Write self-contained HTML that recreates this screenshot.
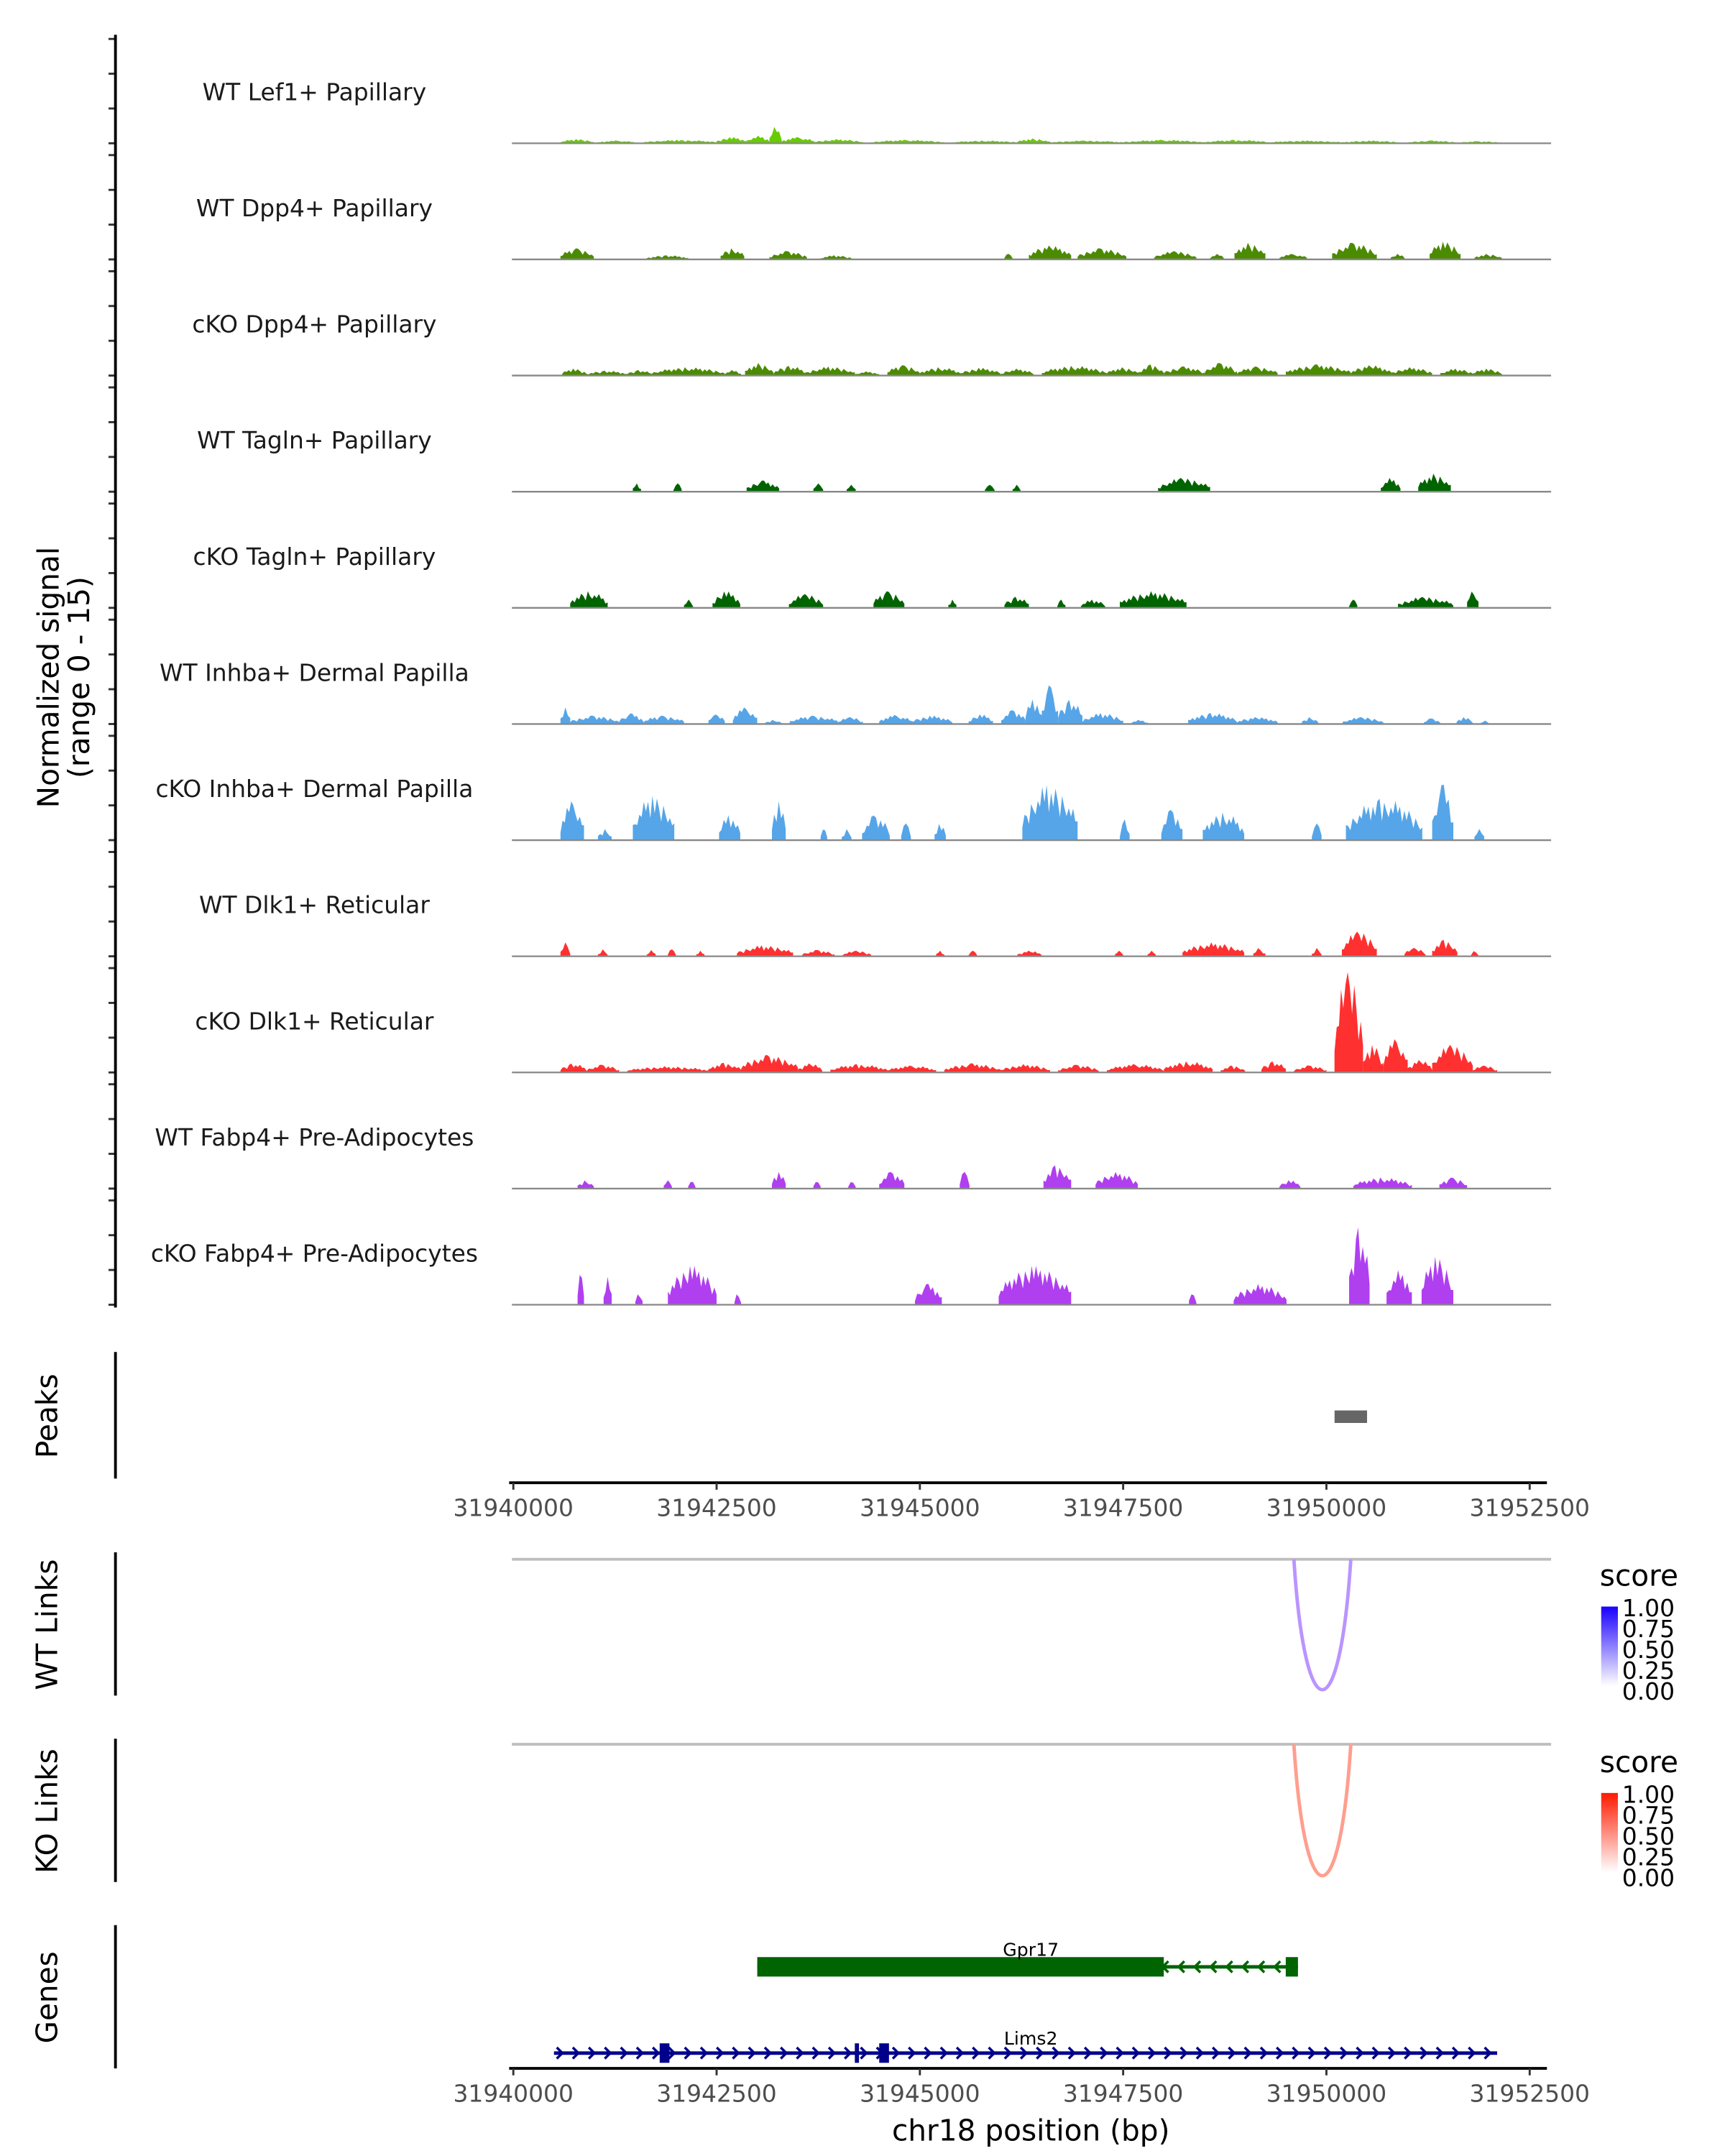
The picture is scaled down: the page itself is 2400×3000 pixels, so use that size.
<!DOCTYPE html>
<html><head><meta charset="utf-8"><style>
html,body{margin:0;padding:0;background:#fff;}
svg{display:block;font-family:"DejaVu Sans","Liberation Sans",sans-serif;}
</style></head><body>
<svg id="chart" width="2400" height="3000" viewBox="0 0 1240 1550" xmlns="http://www.w3.org/2000/svg">
<g id="tracks"></g>
<text transform="translate(42,487) rotate(-90)" text-anchor="middle" font-size="21" fill="#000">Normalized signal</text>
<text transform="translate(64,487) rotate(-90)" text-anchor="middle" font-size="21" fill="#000">(range 0 - 15)</text>
<line x1="83" y1="25" x2="83" y2="940" stroke="#000" stroke-width="2"/>
<g id="peaks">
<text transform="translate(41,1018) rotate(-90)" text-anchor="middle" font-size="21">Peaks</text>
<line x1="83" y1="972" x2="83" y2="1063" stroke="#000" stroke-width="2"/>
</g>
<g id="axis1"></g>
<g id="wtlinks">
<text transform="translate(41,1168) rotate(-90)" text-anchor="middle" font-size="21">WT Links</text>
<line x1="83" y1="1116" x2="83" y2="1219" stroke="#000" stroke-width="2"/>
<line x1="368" y1="1121" x2="1115" y2="1121" stroke="#bebebe" stroke-width="2"/>
</g>
<g id="kolinks">
<text transform="translate(41,1302) rotate(-90)" text-anchor="middle" font-size="21">KO Links</text>
<line x1="83" y1="1250" x2="83" y2="1353" stroke="#000" stroke-width="2"/>
<line x1="368" y1="1254" x2="1115" y2="1254" stroke="#bebebe" stroke-width="2"/>
</g>
<defs>
<linearGradient id="gb" x1="0" y1="1" x2="0" y2="0"><stop offset="0" stop-color="#ffffff"/><stop offset="1" stop-color="#1a00ff"/></linearGradient>
<linearGradient id="gr" x1="0" y1="1" x2="0" y2="0"><stop offset="0" stop-color="#ffffff"/><stop offset="1" stop-color="#ff1a00"/></linearGradient>
</defs>
<g font-size="17">
<text x="1150" y="1140" font-size="21">score</text>
<rect x="1151" y="1155" width="12" height="57" fill="url(#gb)"/>
<text x="1166" y="1162">1.00</text><text x="1166" y="1177">0.75</text><text x="1166" y="1192">0.50</text><text x="1166" y="1207">0.25</text><text x="1166" y="1222">0.00</text>
</g>
<g font-size="17">
<text x="1150" y="1274" font-size="21">score</text>
<rect x="1151" y="1289" width="12" height="57" fill="url(#gr)"/>
<text x="1166" y="1296">1.00</text><text x="1166" y="1311">0.75</text><text x="1166" y="1326">0.50</text><text x="1166" y="1341">0.25</text><text x="1166" y="1356">0.00</text>
</g>
<g id="genes">
<text transform="translate(41,1436) rotate(-90)" text-anchor="middle" font-size="21">Genes</text>
<line x1="83" y1="1384" x2="83" y2="1487" stroke="#000" stroke-width="2"/>
</g>
<g id="axis2"></g>
<text x="741" y="1539" text-anchor="middle" font-size="21">chr18 position (bp)</text>
</svg>
<script>
const NS="http://www.w3.org/2000/svg";
const regionStart=31940000;
const xTicks=[31940000,31942500,31945000,31947500,31950000,31952500];
const trackNames=["WT Lef1+ Papillary","WT Dpp4+ Papillary","cKO Dpp4+ Papillary","WT Tagln+ Papillary","cKO Tagln+ Papillary","WT Inhba+ Dermal Papilla","cKO Inhba+ Dermal Papilla","WT Dlk1+ Reticular","cKO Dlk1+ Reticular","WT Fabp4+ Pre-Adipocytes","cKO Fabp4+ Pre-Adipocytes"];
const trackColors=["#66cc00","#4b8b00","#4b8b00","#006400","#006400","#56a5e8","#56a5e8","#ff3030","#ff3030","#b03ff0","#b03ff0"];
// peaks per track: [start kb offset, end kb offset, height (0-15)]
const t1=[[0.58,0.99,0.6],[1.04,1.5,0.4],[1.6,2.5,0.5],[2.5,2.87,0.9],[2.87,3.15,1.1],[3.15,3.3,2.4],[3.3,3.7,0.9],[3.7,4.3,0.6],[4.4,5.3,0.5],[5.4,6.2,0.4],[6.2,6.6,0.7],[6.6,7.5,0.4],[7.5,8.5,0.5],[8.5,9.3,0.5],[9.3,10.2,0.4],[10.2,10.9,0.4],[11.0,11.6,0.4],[11.6,12.16,0.3]];
const t2=[[0.58,0.99,1.6],[1.64,2.15,0.6],[2.55,2.84,1.6],[3.15,3.61,1.2],[3.78,4.16,0.6],[6.04,6.14,0.8],[6.34,6.86,2.0],[6.94,7.54,1.6],[7.88,8.4,1.2],[8.57,8.74,0.8],[8.87,9.25,2.4],[9.42,9.76,0.8],[10.07,10.62,2.4],[10.79,10.96,0.8],[11.27,11.65,2.6],[11.82,12.16,0.8]];
const t3=[[0.6,0.9,1.0],[0.9,1.4,0.7],[1.4,1.7,0.8],[1.7,2.6,1.2],[2.6,2.8,0.8],[2.85,3.2,1.8],[3.2,3.6,1.4],[3.6,4.2,1.3],[4.2,4.5,0.6],[4.6,5.0,1.5],[5.0,5.5,1.2],[5.5,6.0,1.1],[6.0,6.4,1.0],[6.5,7.3,1.4],[7.3,7.7,1.2],[7.7,8.0,1.6],[8.0,8.5,1.3],[8.5,8.9,1.8],[8.9,9.4,1.3],[9.5,10.3,1.6],[10.3,10.8,1.5],[10.8,11.3,1.2],[11.4,11.8,1.0],[11.8,12.16,1.0]];
const t4=[[1.47,1.57,1.2],[1.97,2.07,1.2],[2.87,3.27,1.6],[3.69,3.81,1.2],[4.10,4.21,1.0],[5.80,5.92,1.0],[6.14,6.24,1.0],[7.93,8.57,2.0],[10.67,10.91,2.0],[11.13,11.53,2.6]];
const t5=[[0.70,1.16,2.4],[2.10,2.21,1.2],[2.45,2.79,2.4],[3.39,3.81,2.0],[4.43,4.81,2.4],[5.35,5.45,1.2],[6.04,6.34,1.6],[6.69,6.79,1.2],[6.98,7.28,1.2],[7.46,8.28,2.4],[10.28,10.38,1.2],[10.88,11.56,1.6],[11.73,11.87,2.4]];
const t6=[[0.58,0.7,2.4],[0.7,1.3,1.2],[1.3,1.6,1.5],[1.6,2.1,1.2],[2.4,2.6,1.4],[2.7,3.0,2.4],[3.1,3.3,0.6],[3.4,4.0,1.2],[4.0,4.3,1.0],[4.5,4.9,1.3],[4.9,5.4,1.2],[5.6,5.9,1.4],[6.0,6.3,2.0],[6.3,6.5,3.6],[6.5,6.7,5.6],[6.7,7.0,3.5],[7.0,7.5,1.6],[7.6,7.8,0.6],[8.3,8.9,1.6],[8.9,9.4,1.0],[9.7,9.9,1.0],[10.2,10.7,1.0],[11.2,11.4,0.8],[11.6,11.8,1.0],[11.9,12.0,0.5]];
const t7=[[0.58,0.87,5.6],[1.04,1.21,1.6],[1.47,1.98,6.4],[2.53,2.79,3.6],[3.18,3.35,5.6],[3.78,3.86,1.6],[4.04,4.16,1.6],[4.29,4.63,3.6],[4.77,4.89,2.4],[5.18,5.32,2.4],[6.26,6.94,8.0],[7.46,7.58,3.0],[7.97,8.23,4.4],[8.48,8.99,4.0],[9.82,9.94,2.4],[10.24,11.18,6.0],[11.30,11.56,8.0],[11.82,11.94,1.6]];
const t8=[[0.58,0.7,2.0],[1.04,1.16,1.0],[1.64,1.75,0.9],[1.9,2.0,1.0],[2.25,2.35,0.8],[2.75,3.44,1.6],[3.55,3.95,0.9],[4.05,4.4,0.8],[5.2,5.3,0.8],[5.6,5.7,0.8],[6.2,6.5,0.8],[7.4,7.5,0.8],[7.8,7.9,0.8],[8.23,8.99,2.0],[9.1,9.25,1.2],[9.82,9.94,1.2],[10.19,10.62,3.6],[10.96,11.22,1.2],[11.30,11.61,2.4],[11.78,11.87,0.8]];
const t9=[[0.58,0.9,1.3],[0.9,1.3,1.1],[1.4,2.4,0.9],[2.4,2.8,1.4],[2.8,3.5,2.5],[3.5,3.8,1.3],[3.9,4.6,1.2],[4.6,5.2,1.0],[5.3,6.0,1.3],[6.0,6.6,1.2],[6.7,7.2,1.1],[7.3,8.0,1.2],[8.0,8.6,1.6],[8.7,9.0,1.0],[9.2,9.5,1.6],[9.6,10.0,1.0],[10.1,10.45,14.5],[10.45,10.7,4],[10.7,11.0,4.8],[11.0,11.3,1.8],[11.3,11.8,4.0],[11.8,12.1,1.0]];
const t10=[[0.79,0.99,1.2],[1.85,1.95,1.2],[2.15,2.24,1.0],[3.18,3.35,2.4],[3.69,3.78,1.0],[4.12,4.21,1.0],[4.50,4.81,2.4],[5.49,5.61,2.4],[6.52,6.86,3.4],[7.16,7.68,2.4],[9.42,9.68,1.2],[10.33,11.05,1.6],[11.39,11.73,1.6]];
const t11=[[0.79,0.87,4.6],[1.11,1.21,4.0],[1.50,1.59,1.6],[1.90,2.50,5.6],[2.72,2.80,1.6],[4.94,5.27,3.0],[5.97,6.86,5.6],[8.31,8.40,1.6],[8.86,9.51,3.0],[10.28,10.53,11.2],[10.74,11.05,5.0],[11.17,11.56,7.0]];
const trackData=[t1,t2,t3,t4,t5,t6,t7,t8,t9,t10,t11];
const peakRanges=[[31950100,31950500]];
const linkStart=31949600, linkEnd=31950300;
const wtLinkScore=0.55, koLinkScore=0.5;
const gpr17Exons=[[31943000,31948000],[31949500,31949650]];
const gpr17Range=[31943000,31949650];
const lims2Exons=[[31941800,31941920],[31944200,31944240],[31944500,31944620]];
const lims2Range=[31940500,31952100];

const X0=369, PXPB=730.6/12500;
function xs(bp){return X0+(bp-regionStart)*PXPB;}
function xk(kb){return xs(regionStart+kb*1000);}
const TRACK_H=75, TRACK_STEP=83.5, FIRST_BASE=103;
function ys(base,v){return base-v/15*TRACK_H;}
function el(tag,attrs,parent){const e=document.createElementNS(NS,tag);for(const k in attrs)e.setAttribute(k,attrs[k]);parent.appendChild(e);return e;}
// visual texture only (ragged coverage look)
const texture=[0.55,0.8,0.65,1.0,0.7,0.9,0.5,0.85,0.6,0.95,0.75,0.45,0.9,0.7];

const tg=document.getElementById('tracks');
trackData.forEach((peaks,i)=>{
  const base=FIRST_BASE+i*TRACK_STEP;
  const g=el('g',{},tg);
  
  
  [0,5,10,15].forEach(v=>{
    const t=el('line',{x1:78,x2:83,y1:ys(base,v),y2:ys(base,v),stroke:'#333','stroke-width':1.5},g);
    
    
  });
  const lab=el('text',{x:226,y:base-31,'text-anchor':'middle','font-size':17,fill:'#1a1a1a'},g);
  lab.textContent=trackNames[i];
  
  
  peaks.forEach((p,j)=>{
    const s=xk(p[0]), e=xk(p[1]), w=e-s, h=p[2];
    const n=Math.max(2,Math.round(w/1.6));
    const pts=[[s,0]];
    for(let k=0;k<=n;k++){
      const f=k/n;
      const env=Math.pow(Math.sin(Math.PI*(0.08+0.84*f)),0.7);
      const tx=texture[(k+j*3+i)%texture.length];
      pts.push([s+f*w,h*env*(k===Math.round(n*0.45)?1:tx)]);
    }
    pts.push([e,0]);
    const poly=el('polygon',{points:pts.map(q=>q[0].toFixed(1)+','+ys(base,q[1]).toFixed(1)).join(' '),fill:trackColors[i]},g);
    
    
  });
  const bl=el('line',{x1:368,x2:1115,y1:base,y2:base,stroke:'#888','stroke-width':1.2},g);
  
  
});

const pg=document.getElementById('peaks');
peakRanges.forEach(r=>{
  const rc=el('rect',{x:xs(r[0]),y:1014,width:xs(r[1])-xs(r[0]),height:9,fill:'#666'},pg);
  
  
});

function axis(gid,y){
  const g=document.getElementById(gid);
  el('line',{x1:366,x2:1112,y1:y,y2:y,stroke:'#000','stroke-width':2},g);
  xTicks.forEach(t=>{
    const tk=el('line',{x1:xs(t),x2:xs(t),y1:y,y2:y+5,stroke:'#333','stroke-width':1.5},g);
    
    
    const tx=el('text',{x:xs(t),y:y+24,'text-anchor':'middle','font-size':17,fill:'#4d4d4d'},g);
    tx.textContent=t;
    
    
  });
}
axis('axis1',1066);
axis('axis2',1487);

function link(gid,top,bottom,score,lo,hi){
  const g=document.getElementById(gid);
  const a=xs(linkStart), b=xs(linkEnd);
  const c=`rgb(${Math.round(lo[0]+(hi[0]-lo[0])*score)},${Math.round(lo[1]+(hi[1]-lo[1])*score)},${Math.round(lo[2]+(hi[2]-lo[2])*score)})`;
  const p=el('path',{d:`M${a},${top} C${a+8},${bottom+30} ${b-8},${bottom+30} ${b},${top}`,fill:'none',stroke:c,'stroke-width':2.5},g);
  
  
}
link('wtlinks',1121,1216,wtLinkScore,[255,255,255],[130,60,255]);
link('kolinks',1254,1350,koLinkScore,[255,255,255],[255,60,30]);

const gg=document.getElementById('genes');
function gene(name,range,exons,y,color,dir,ly){
  const g=el('g',{},gg);
  
  
  el('line',{x1:xs(range[0]),x2:xs(range[1]),y1:y,y2:y,stroke:color,'stroke-width':2.5},g);
  for(let x=xs(range[0])+5;x<xs(range[1])-3;x+=11.5){
    const d=dir>0?`M${x-3},${y-4} L${x+1},${y} L${x-3},${y+4}`:`M${x+3},${y-4} L${x-1},${y} L${x+3},${y+4}`;
    el('path',{d:d,fill:'none',stroke:color,'stroke-width':1.8},g);
  }
  exons.forEach(e=>{
    const r=el('rect',{x:xs(e[0]),y:y-7,width:Math.max(3,xs(e[1])-xs(e[0])),height:14,fill:color},g);
    
    
  });
  const t=el('text',{x:741,y:ly,'text-anchor':'middle','font-size':13,fill:'#000'},g);
  t.textContent=name;
  
  
}
gene('Gpr17',gpr17Range,gpr17Exons,1414,'#006400',-1,1406);
gene('Lims2',lims2Range,lims2Exons,1476,'#00008b',1,1470);
</script>
</body></html>
